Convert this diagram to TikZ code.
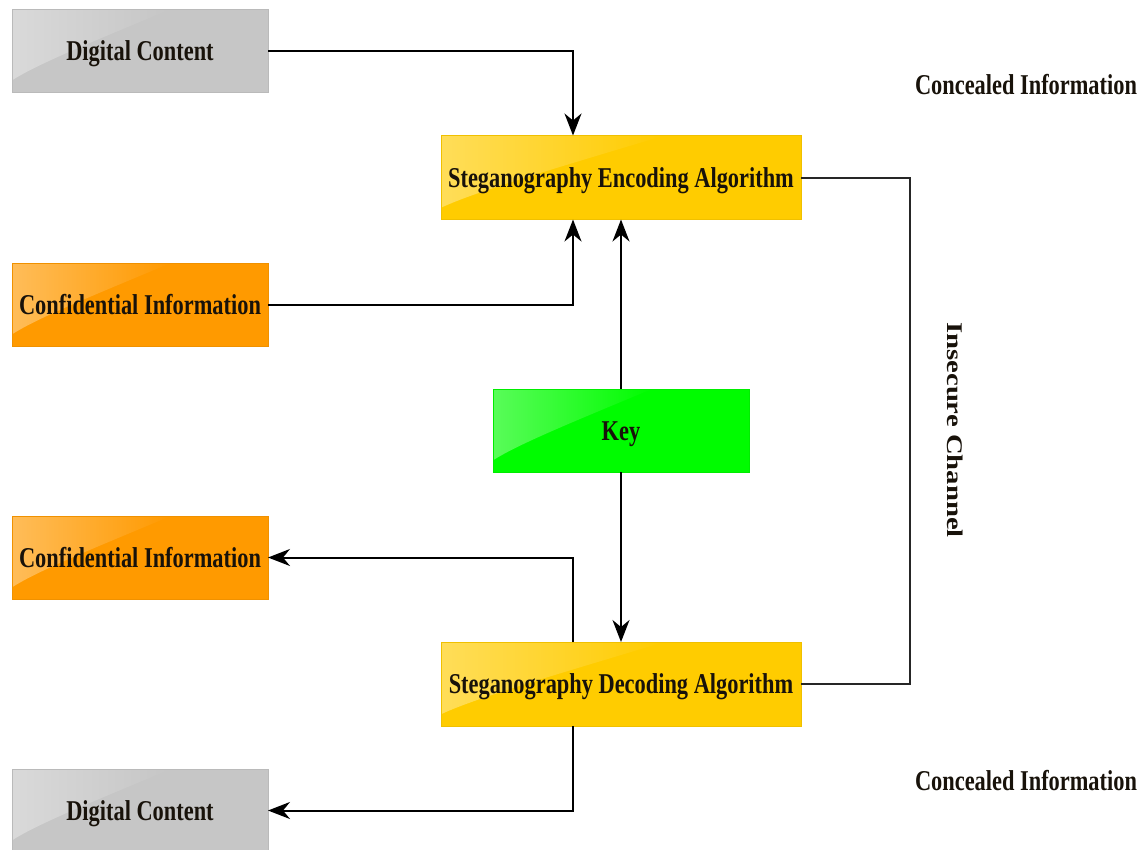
\documentclass[tikz,border=0pt]{standalone}
\usepackage{fontspec}
\setmainfont{Liberation Serif}[FakeStretch=0.78]
\newfontfamily\plainserif{Liberation Serif}
\usetikzlibrary{arrows.meta,calc,fadings}
\definecolor{boxgray}{RGB}{198,198,198}
\definecolor{boxorange}{RGB}{255,154,0}
\definecolor{boxyellow}{RGB}{255,204,0}
\definecolor{boxgreen}{RGB}{0,252,0}
\definecolor{txt}{RGB}{24,18,10}
\tikzset{
  gloss/.style={path picture={
    \coordinate (gnw) at (path picture bounding box.north west);
    \coordinate (gne) at (path picture bounding box.north east);
    \coordinate (gsw) at (path picture bounding box.south west);
    \coordinate (gse) at (path picture bounding box.south east);
    \fill[white, fill opacity=0.35, path fading=east]
      (gnw) -- ($(gnw)!0.62!(gne)$)
      .. controls ($(gnw)!0.35!(gse)$) and ($(gnw)!0.62!(gsw)!0.1!(gse)$)
      .. ($(gnw)!0.86!(gsw)$) -- cycle;}},
  boxbase/.style={rectangle, inner sep=0pt, outer sep=0pt, gloss,
    minimum width=256pt, minimum height=83pt, text=txt,
    text height=25.5pt, text depth=6pt,
    font=\fontsize{28.7}{32}\selectfont\bfseries},
  graybox/.style={boxbase, fill=boxgray, draw=boxgray!94!black, line width=0.5pt},
  orangebox/.style={boxbase, fill=boxorange, draw=boxorange!94!black, line width=0.5pt},
  yellowbox/.style={boxbase, fill=boxyellow, draw=boxyellow!94!black, line width=0.5pt, minimum width=360pt, minimum height=84pt},
  greenbox/.style={boxbase, fill=boxgreen, draw=boxgreen!94!black, line width=0.5pt},
  label/.style={inner sep=0pt, text=txt, font=\fontsize{28.7}{32}\selectfont\bfseries},
  arr/.style={draw=black, line width=2pt, -{Stealth[length=22pt,width=17pt,inset=7pt]}},
  plainline/.style={draw=black!85, line width=2pt}
}
\begin{document}
\begin{tikzpicture}[x=1pt,y=1pt]
\useasboundingbox (0,0) rectangle (1143,-849);
\node[graybox]   (dc1)   at (140,-50.5)  {Digital Content};
\node[yellowbox] (enc)   at (621,-177.5) {Steganography Encoding Algorithm};
\node[orangebox] (conf1) at (140,-304.5) {Confidential Information};
\node[greenbox]  (key)   at (621,-430.5) {Key};
\node[orangebox] (conf2) at (140,-557.5) {Confidential Information};
\node[yellowbox] (dec)   at (621,-684)   {Steganography Decoding Algorithm};
\node[graybox]   (dc2)   at (140,-810.5) {Digital Content};
\node[label] (conc1) at (1026,-85)  {Concealed Information};
\node[label] (conc2) at (1026,-781) {Concealed Information};
\node[inner sep=0pt, text=txt] (chan) at (955,-430)
  {\rotatebox{-90}{\scalebox{1}[0.78]{\plainserif\fontsize{28.7}{32}\selectfont\bfseries Insecure Channel}}};
\draw[arr] (dc1.east) -| ([xshift=-48pt]enc.north);
\draw[arr] (conf1.east) -| ([xshift=-48pt]enc.south);
\draw[arr] (key.north) -- (enc.south);
\draw[arr] (key.south) -- (dec.north);
\draw[arr] ([xshift=-48pt]dec.north) |- (conf2.east);
\draw[arr] ([xshift=-48pt]dec.south) |- (dc2.east);
\draw[plainline] (enc.east) -- ++(109pt,0) |- (dec.east);
\end{tikzpicture}
\end{document}
